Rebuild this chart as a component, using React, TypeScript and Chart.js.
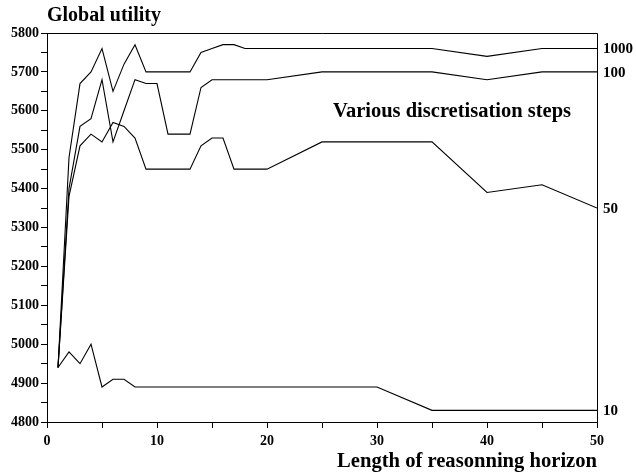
import React, { useEffect, useRef } from "react";
import { Chart, registerables } from "chart.js";

Chart.register(...registerables);

const horizons = [1, 2, 3, 4, 5, 6, 7, 8, 9, 10, 11, 12, 13, 14, 15, 16, 17, 18, 20, 25, 30, 35, 40, 45, 50];

const step1000 = [4940, 5480, 5670, 5700, 5760, 5650, 5720, 5770, 5700, 5700, 5700, 5700, 5700, 5750, 5760, 5770, 5770, 5760, 5760, 5760, 5760, 5760, 5740, 5760, 5760];
const step100 = [4940, 5400, 5560, 5580, 5680, 5520, 5600, 5680, 5670, 5670, 5540, 5540, 5540, 5660, 5680, 5680, 5680, 5680, 5680, 5700, 5700, 5700, 5680, 5700, 5700];
const step50 = [4940, 5380, 5510, 5540, 5520, 5570, 5560, 5530, 5450, 5450, 5450, 5450, 5450, 5510, 5530, 5530, 5450, 5450, 5450, 5520, 5520, 5520, 5390, 5410, 5350];
const step10 = [4940, 4980, 4950, 5000, 4890, 4910, 4910, 4890, 4890, 4890, 4890, 4890, 4890, 4890, 4890, 4890, 4890, 4890, 4890, 4890, 4890, 4830, 4830, 4830, 4830];

const seriesLabels = ["1000", "100", "50", "10"];
const seriesValues = [step1000, step100, step50, step10];

const yTitle = "Global utility";
const xTitle = "Length of reasonning horizon";
const noteText = "Various discretisation steps";

const FONT = "'Liberation Serif', 'Times New Roman', serif";

export default function App() {
  const ref = useRef<HTMLCanvasElement | null>(null);

  useEffect(() => {
    const canvas = ref.current;
    if (!canvas) return;

    const overlay = {
      id: "overlay",
      afterDraw(chart: any) {
        const { ctx, chartArea: a, scales } = chart;
        const ys = scales.y;
        ctx.save();
        // frame (top + right)
        ctx.strokeStyle = "#000";
        ctx.lineWidth = 1;
        ctx.beginPath();
        ctx.moveTo(a.left, Math.round(a.top) + 0.5);
        ctx.lineTo(Math.round(a.right) + 0.5, Math.round(a.top) + 0.5);
        ctx.lineTo(Math.round(a.right) + 0.5, a.bottom);
        ctx.stroke();

        ctx.fillStyle = "#000";
        // y title
        ctx.font = `bold 20px ${FONT}`;
        ctx.textAlign = "left";
        ctx.textBaseline = "alphabetic";
        ctx.fillText(yTitle, a.left, 21);
        // x title
        ctx.font = `bold 20.6px ${FONT}`;
        ctx.textAlign = "right";
        ctx.fillText(xTitle, a.right, 467);
        // annotation
        ctx.font = `bold 20.5px ${FONT}`;
        ctx.textAlign = "left";
        ctx.fillText(noteText, 333, 117);
        // end labels
        ctx.font = `bold 15px ${FONT}`;
        ctx.textBaseline = "middle";
        seriesValues.forEach((vals, i) => {
          const yv = ys.getPixelForValue(vals[vals.length - 1]);
          ctx.fillText(seriesLabels[i], a.right + 6, yv + 1);
        });
        ctx.restore();
      },
    };

    const chart = new Chart(canvas, {
      type: "line",
      data: {
        datasets: seriesValues.map((vals, i) => ({
          label: seriesLabels[i],
          data: horizons.map((h, j) => ({ x: h, y: vals[j] })),
          borderColor: "#000",
          borderWidth: 1.1,
          pointRadius: 0,
          tension: 0,
          fill: false,
        })),
      },
      options: {
        animation: false,
        responsive: false,
        layout: { padding: { top: 33, right: 39, left: 0, bottom: 0 } },
        plugins: { legend: { display: false }, tooltip: { enabled: false } },
        scales: {
          x: {
            type: "linear",
            min: 0,
            max: 50,
            afterFit: (s: any) => {
              s.height = 52;
            },
            border: { display: true, color: "#000", width: 1 },
            grid: { drawOnChartArea: false, drawTicks: true, tickLength: 6, color: "#000" },
            ticks: {
              stepSize: 5,
              autoSkip: false,
              maxRotation: 0,
              padding: 5,
              color: "#000",
              font: { family: FONT, size: 14, weight: "bold" },
              callback: (v: any) => (Number(v) % 10 === 0 ? String(v) : ""),
            },
          },
          y: {
            type: "linear",
            min: 4800,
            max: 5800,
            afterFit: (s: any) => {
              s.width = 47;
            },
            border: { display: true, color: "#000", width: 1 },
            grid: { drawOnChartArea: false, drawTicks: true, tickLength: 6, color: "#000" },
            ticks: {
              stepSize: 50,
              autoSkip: false,
              padding: 2,
              color: "#000",
              font: { family: FONT, size: 14, weight: "bold" },
              callback: (v: any) => (Number(v) % 100 === 0 ? String(v) : ""),
            },
          },
        },
      },
      plugins: [overlay],
    } as any);

    return () => chart.destroy();
  }, []);

  return (
    <canvas
      ref={ref}
      width={636}
      height={474}
      style={{ position: "fixed", left: 0, top: 0, width: 636, height: 474, display: "block", background: "#fff" }}
    />
  );
}
